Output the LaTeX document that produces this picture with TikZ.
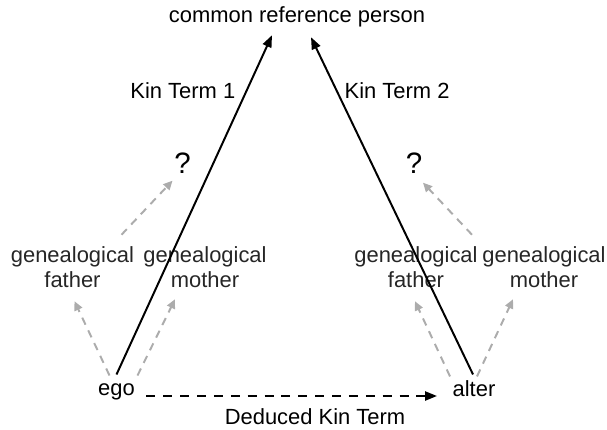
\documentclass[tikz,border=0pt]{standalone}
\usepackage{fontspec}
\setmainfont{Liberation Sans}
\usepackage{tikz}
\usetikzlibrary{arrows.meta,positioning,calc}
\usepackage{xcolor}
\definecolor{gengray}{RGB}{172,172,172}

\begin{document}
\begin{tikzpicture}[x=0.025cm, y=-0.025cm,
    every node/.style={inner sep=1pt, font=\fontsize{15.6}{17.8}\selectfont},
    genlbl/.style={align=center, text=black!85},
    qmark/.style={font=\fontsize{21}{24}\selectfont},
    kinarrow/.style={-{Triangle[length=8.5pt, width=6.5pt]}, line width=1.4pt},
    dedarrow/.style={kinarrow, dash pattern=on 6.4pt off 5.6pt},
    genarrow/.style={-{Triangle[length=6.5pt, width=6pt]}, line width=1.4pt, gengray, dash pattern=on 5.5pt off 4.5pt}]
    \useasboundingbox (0,0) rectangle (607,429);

    % Persons
    \node[anchor=base] (crp) at (297,22) {common reference person};
    \node[anchor=base] (ego) at (116.5,395) {ego};
    \node[anchor=base] (alter) at (474,396) {alter};

    % Parents
    \node[genlbl] (fL) at (72.5,267) {genealogical\\father};
    \node[genlbl] (mL) at (205,267) {genealogical\\mother};
    \node[genlbl] (fR) at (416,267) {genealogical\\father};
    \node[genlbl] (mR) at (544,267) {genealogical\\mother};

    % Unknown ancestors
    \node[qmark, anchor=base] (qL) at (182.5,173) {?};
    \node[qmark, anchor=base] (qR) at (414,173) {?};

    % Kin term arrows
    \draw[kinarrow] ($(ego.north)+(0,-7)$) -- ($(crp.south)+(-25,7)$);
    \draw[kinarrow] ($(alter.north)+(-1,-4)$) -- ($(crp.south)+(14,9)$);
    \node[anchor=base east] (kt1) at (237,98) {Kin Term 1};
    \node[anchor=base west] (kt2) at (343,98) {Kin Term 2};

    % Genealogical links
    \draw[genarrow] ($(ego.north)+(-7,-6)$) -- ($(fL.south)+(2,12)$);
    \draw[genarrow] ($(ego.north)+(21,-6)$) -- ($(mL.south)+(-30,10)$);
    \draw[genarrow] ($(alter.north)+(-24,-2)$) -- ($(fR.south)+(-1,12)$);
    \draw[genarrow] ($(alter.north)+(3,-2)$) -- ($(mR.south)+(-31,10)$);
    \draw[genarrow] ($(fL.north)+(49,-10)$) -- ($(qL.south)+(-10,6)$);
    \draw[genarrow] ($(mR.north)+(-72,-10)$) -- ($(qR.south)+(9,8)$);

    % Deduced term
    \draw[dedarrow] ($(ego.base east)+(10,1)$) -- ($(alter.base west)+(-14,0)$);
    \node[anchor=base] (ded) at (315,424) {Deduced Kin Term};
\end{tikzpicture}
\end{document}
